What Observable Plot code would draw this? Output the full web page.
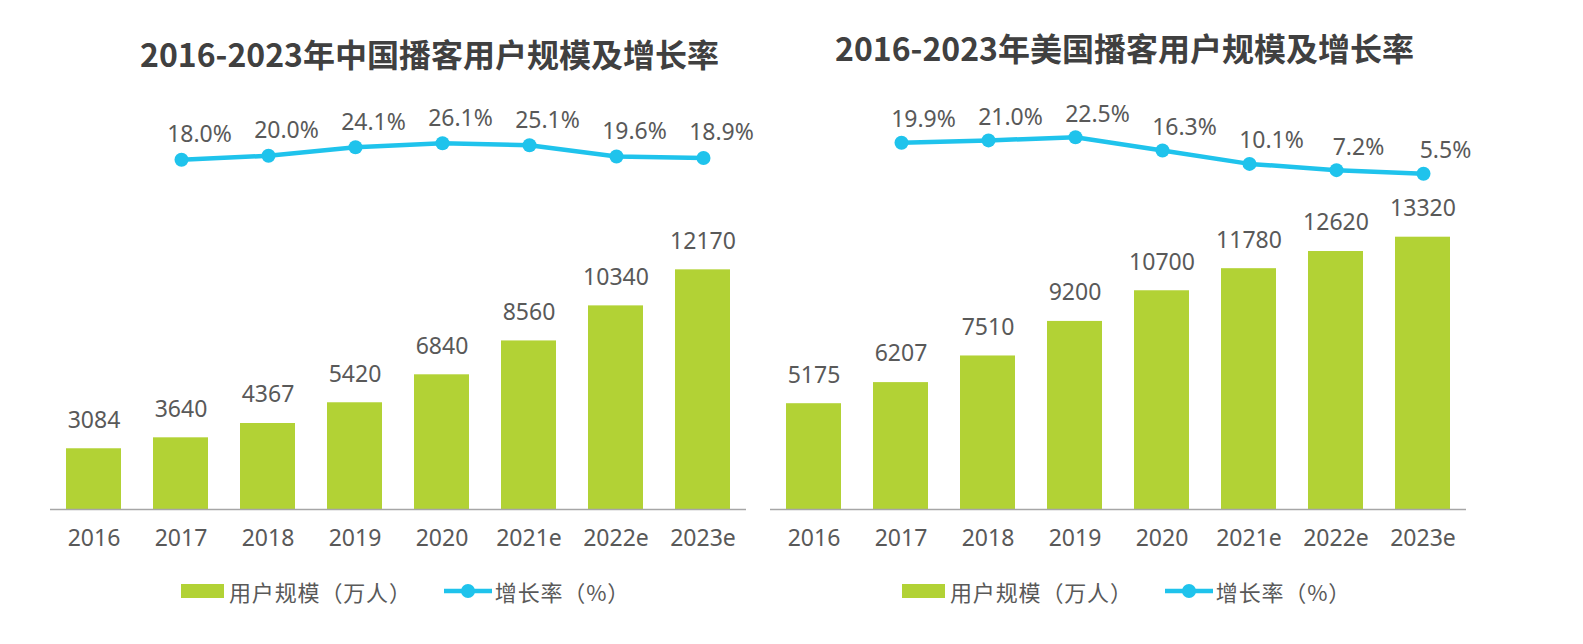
<!DOCTYPE html>
<html><head><meta charset="utf-8">
<script src="https://cdn.jsdelivr.net/npm/d3@7"></script>
<script src="https://cdn.jsdelivr.net/npm/@observablehq/plot@0.6"></script>
<style>
body{margin:0;background:#fff;}
#root{position:relative;width:1583px;height:644px;overflow:hidden;background:#fff;}
.title{position:absolute;transform:translate(-50%,-50%);white-space:nowrap;font-family:"Noto Sans CJK SC",sans-serif;font-weight:700;font-size:32px;color:#404040;line-height:1;}
.panel{position:absolute;}
.legend{position:absolute;display:flex;align-items:center;font-family:"Noto Sans CJK SC",sans-serif;font-size:22px;letter-spacing:0.85px;color:#595959;transform:translateY(-50%);white-space:nowrap;line-height:1;}
</style></head><body><div id="root"></div>
<script>
// ---- data ----
const years = ["2016","2017","2018","2019","2020","2021e","2022e","2023e"];
const rateYears = ["2017","2018","2019","2020","2021e","2022e","2023e"];
const chinaUsers = [3084,3640,4367,5420,6840,8560,10340,12170];
const chinaGrowth = [18.0,20.0,24.1,26.1,25.1,19.6,18.9];
const usUsers = [5175,6207,7510,9200,10700,11780,12620,13320];
const usGrowth = [19.9,21.0,22.5,16.3,10.1,7.2,5.5];
const titles = ["2016-2023年中国播客用户规模及增长率","2016-2023年美国播客用户规模及增长率"];
const legendLabels = ["用户规模（万人）","增长率（%）"];

// ---- styling ----
const GREEN = "#b2d235";
const BLUE = "#1fc3ec";
const GRAY = "#595959";
const FONT = '"Noto Sans","Noto Sans CJK SC",sans-serif';

const panels = [
  {users: chinaUsers, growth: chinaGrowth, title: titles[0], left: 0, width: 790, mL: 50, mR: 44,
   titleX: 429.5, titleY: 52.5, barMT: 43.3, lineDomain: [10, 30], lineMT: 44.7, lineMB: 14.3,
   labelDx: 18, labelDy: -25, legendX: 181},
  {users: usUsers, growth: usGrowth, title: titles[1], left: 760, width: 823, mL: 10, mR: 117,
   titleX: 1124.5, titleY: 47, barMT: 32.8, lineDomain: [0, 25], lineMT: 41.3, lineMB: 4.86,
   labelDx: 22, labelDy: -23, legendX: 902}
];

const root = document.getElementById("root");

for (const p of panels) {
  const barData = years.map((y, i) => ({year: y, users: p.users[i]}));
  const rateData = rateYears.map((y, i) => ({year: y, rate: p.growth[i]}));
  const xOpts = {domain: years, paddingInner: 0.37, paddingOuter: 0.185};

  const t = document.createElement("div");
  t.className = "title";
  t.style.left = p.titleX + "px";
  t.style.top = p.titleY + "px";
  t.textContent = p.title;
  root.appendChild(t);

  const lineChart = Plot.plot({
    width: p.width, height: 100,
    marginLeft: p.mL, marginRight: p.mR, marginTop: p.lineMT, marginBottom: p.lineMB,
    x: {...xOpts, axis: null},
    y: {domain: p.lineDomain, axis: null},
    style: {fontFamily: FONT, background: "transparent", overflow: "visible", color: GRAY},
    marks: [
      Plot.lineY(rateData, {x: "year", y: "rate", stroke: BLUE, strokeWidth: 4.5, strokeLinejoin: "round"}),
      Plot.dot(rateData, {x: "year", y: "rate", r: 7, fill: BLUE}),
      Plot.text(rateData, {x: "year", y: "rate", text: d => d.rate.toFixed(1) + "%", dx: p.labelDx, dy: p.labelDy, fontSize: 23, fill: GRAY})
    ]
  });
  const lw = document.createElement("div");
  lw.className = "panel";
  lw.style.left = p.left + "px";
  lw.style.top = "90px";
  lw.appendChild(lineChart);
  root.appendChild(lw);

  const barChart = Plot.plot({
    width: p.width, height: 380,
    marginLeft: p.mL, marginRight: p.mR, marginTop: p.barMT, marginBottom: 61,
    x: {...xOpts, label: null},
    y: {domain: [0, 14000], axis: null},
    style: {fontFamily: FONT, background: "transparent", overflow: "visible", color: GRAY},
    marks: [
      Plot.barY(barData, {x: "year", y: "users", fill: GREEN}),
      Plot.ruleY([0], {stroke: "#a6a6a6", strokeWidth: 1.5}),
      Plot.text(barData, {x: "year", y: "users", text: d => String(d.users), dy: -28.5, fontSize: 23, fill: GRAY}),
      Plot.axisX({tickSize: 0, tickPadding: 20, fontSize: 23, fill: GRAY, label: null})
    ]
  });
  const bw = document.createElement("div");
  bw.className = "panel";
  bw.style.left = p.left + "px";
  bw.style.top = "190px";
  bw.appendChild(barChart);
  root.appendChild(bw);

  const lg = document.createElement("div");
  lg.className = "legend";
  lg.style.left = p.legendX + "px";
  lg.style.top = "591px";
  lg.innerHTML =
    `<span style="display:inline-block;width:43px;height:14px;background:${GREEN}"></span>` +
    `<span style="margin-left:5px">${legendLabels[0]}</span>` +
    `<svg width="48" height="16" style="margin-left:32px;overflow:visible"><line x1="0" x2="48" y1="8" y2="8" stroke="${BLUE}" stroke-width="4.5"/><circle cx="24" cy="8" r="7" fill="${BLUE}"/></svg>` +
    `<span style="margin-left:3px">${legendLabels[1]}</span>`;
  root.appendChild(lg);
}
</script></body></html>
